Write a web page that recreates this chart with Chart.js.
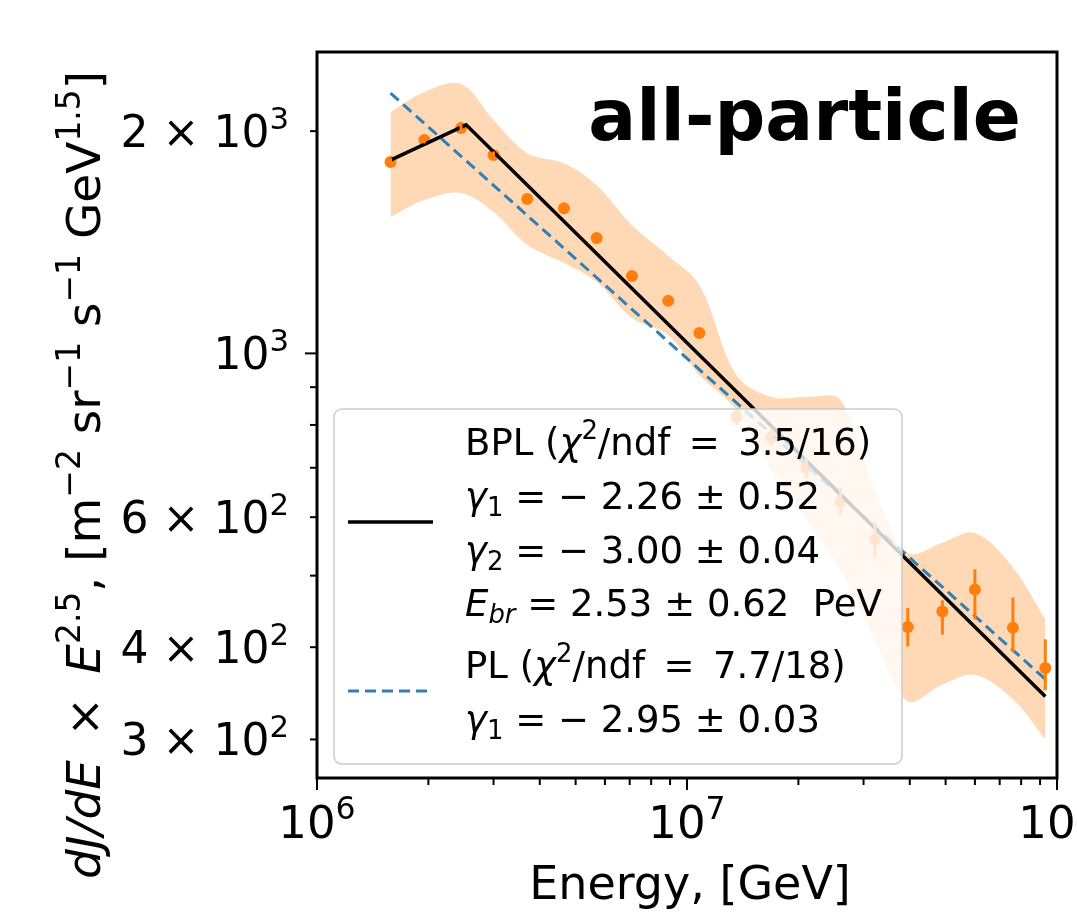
<!DOCTYPE html>
<html>
<head>
<meta charset="utf-8">
<script src="https://cdn.jsdelivr.net/npm/chart.js@4.4.0/dist/chart.umd.min.js"></script>
<style>
  html, body { margin: 0; padding: 0; background: #fff; }
  #wrap { width: 1077px; height: 924px; }
</style>
</head>
<body>
<div id="wrap"><canvas id="chart" width="1077" height="924"></canvas></div>
<script>
// energies of the measured bins, GeV
const energy = [1.58e6, 1.95e6, 2.45e6, 3.0e6, 3.7e6, 4.65e6, 5.7e6, 7.1e6, 8.9e6, 1.08e7,
                1.36e7, 1.69e7, 2.1e7, 2.6e7, 3.22e7, 3.95e7, 4.9e7, 6.0e7, 7.6e7, 9.3e7];
// dJ/dE * E^2.5
const flux   = [1816, 1945, 2019, 1856, 1618, 1573, 1433, 1273, 1178, 1066,
                820, 770, 700, 630, 560, 426, 447, 479, 425, 375];
const fluxLo = [1795, 1925, 1998, 1836, 1600, 1555, 1416, 1258, 1163, 1052,
                800, 750, 678, 605, 530, 401, 416, 436, 394, 350];
const fluxHi = [1838, 1966, 2040, 1877, 1637, 1592, 1450, 1289, 1193, 1081,
                840, 792, 723, 657, 591, 452, 463, 510, 467, 410];
// systematic band
const bandHi = [2122, 2259, 2316, 2070, 1867, 1810, 1690, 1492, 1355, 1238,
                935, 873, 873, 865, 653, 537, 554, 571, 513, 436];
const bandLo = [1530, 1613, 1649, 1554, 1402, 1326, 1250, 1117, 1059, 935,
                839, 696, 595, 509, 409, 338, 356, 367, 340, 300];
// fits
const bplE = [1.58e6, 2.53e6, 9.3e7];
const bplF = [1827, 2040, 343];
const plE  = [1.58e6, 9.3e7];
const plF  = [2252, 362];

// axes
const xRange = [1e6, 1e8];
const yRange = [266, 2560];
const xMajor = [1e6, 1e7, 1e8];
const xMajorExp = ['6', '7', '8'];
const xMinor = [2e6, 3e6, 4e6, 5e6, 6e6, 7e6, 8e6, 9e6, 2e7, 3e7, 4e7, 5e7, 6e7, 7e7, 8e7, 9e7];
const yMajor = [1000];
const yMinor = [300, 400, 500, 600, 700, 800, 900, 2000];
const yLabelVals = [2000, 1000, 600, 400, 300];
const yLabelMant = ['2', '', '6', '4', '3'];
const yLabelExp  = ['3', '3', '2', '2', '2'];

const FONT = '"DejaVu Sans", sans-serif';
const orange = '#ff7f0e';
const blue = '#2f7fb8';

const pts = (xs, ys) => xs.map((x, i) => ({ x: x, y: ys[i] }));

function fontFor(seg, size) {
  const s = (seg.sup || seg.sub) ? size * 0.7 : size;
  return (seg.it ? 'italic ' : '') + (seg.bold ? 'bold ' : '') + s + 'px ' + FONT;
}

function richWidth(ctx, segs, size) {
  let w = 0;
  segs.forEach(seg => { ctx.font = fontFor(seg, size); w += ctx.measureText(seg.t).width; });
  return w;
}

function drawRich(ctx, segs, x, y, size, align) {
  const w = richWidth(ctx, segs, size);
  let cx = align === 'center' ? x - w / 2 : align === 'right' ? x - w : x;
  ctx.textAlign = 'left';
  ctx.textBaseline = 'alphabetic';
  segs.forEach(seg => {
    ctx.font = fontFor(seg, size);
    let dy = 0;
    if (seg.sup) dy = -size * 0.42;
    if (seg.sub) dy = size * 0.2;
    ctx.fillText(seg.t, cx, y + dy);
    cx += ctx.measureText(seg.t).width;
  });
}

const legendRows = [
  [{ t: 'BPL (' }, { t: 'χ', it: true }, { t: '2', sup: true }, { t: '/ndf\u2002=\u20023.5/16)' }],
  [{ t: 'γ', it: true }, { t: '1', sub: true }, { t: ' = − 2.26 ± 0.52' }],
  [{ t: 'γ', it: true }, { t: '2', sub: true }, { t: ' = − 3.00 ± 0.04' }],
  [{ t: 'E', it: true }, { t: 'br', sub: true, it: true }, { t: ' = 2.53 ± 0.62  PeV' }],
  [{ t: 'PL (' }, { t: 'χ', it: true }, { t: '2', sup: true }, { t: '/ndf\u2002=\u20027.7/18)' }],
  [{ t: 'γ', it: true }, { t: '1', sub: true }, { t: ' = − 2.95 ± 0.03' }]
];
const legendRowY = [455, 509, 563, 616, 678, 732];

const yTitle = [
  { t: 'dJ/dE', it: true }, { t: '\u2002×\u2002' }, { t: 'E', it: true }, { t: '2.5', sup: true },
  { t: ', [m' }, { t: '−2', sup: true }, { t: ' sr' }, { t: '−1', sup: true },
  { t: ' s' }, { t: '−1', sup: true }, { t: ' GeV' }, { t: '1.5', sup: true }, { t: ']' }
];

const errorBars = {
  id: 'errorBars',
  afterDatasetsDraw(chart) {
    const ctx = chart.ctx, xs = chart.scales.x, ys = chart.scales.y, a = chart.chartArea;
    ctx.save();
    ctx.beginPath();
    ctx.rect(a.left, a.top, a.right - a.left, a.bottom - a.top);
    ctx.clip();
    ctx.strokeStyle = orange;
    ctx.lineWidth = 3;
    energy.forEach((e, i) => {
      const px = xs.getPixelForValue(e);
      ctx.beginPath();
      ctx.moveTo(px, ys.getPixelForValue(fluxLo[i]));
      ctx.lineTo(px, ys.getPixelForValue(fluxHi[i]));
      ctx.stroke();
    });
    ctx.restore();
  }
};

const decorations = {
  id: 'decorations',
  afterDraw(chart) {
    const ctx = chart.ctx, a = chart.chartArea, xs = chart.scales.x, ys = chart.scales.y;
    ctx.save();

    // legend box
    ctx.fillStyle = 'rgba(255,255,255,0.8)';
    ctx.strokeStyle = '#cccccc';
    ctx.lineWidth = 1.5;
    ctx.beginPath();
    ctx.roundRect(334, 409, 568, 355, 8);
    ctx.fill();
    ctx.stroke();

    ctx.strokeStyle = '#000';
    ctx.lineWidth = 3.5;
    ctx.beginPath(); ctx.moveTo(348, 522); ctx.lineTo(433, 522); ctx.stroke();
    ctx.strokeStyle = blue;
    ctx.lineWidth = 3;
    ctx.setLineDash([11, 6]);
    ctx.beginPath(); ctx.moveTo(348, 691); ctx.lineTo(433, 691); ctx.stroke();
    ctx.setLineDash([]);

    ctx.fillStyle = '#000';
    legendRows.forEach((row, i) => drawRich(ctx, row, 465, legendRowY[i], 37, 'left'));

    // panel label
    ctx.font = 'bold 71px ' + FONT;
    ctx.textAlign = 'right';
    ctx.textBaseline = 'alphabetic';
    ctx.fillText('all-particle', 1021, 140);

    // frame
    ctx.strokeStyle = '#000';
    ctx.lineWidth = 3;
    ctx.strokeRect(a.left, a.top, a.right - a.left, a.bottom - a.top);

    // ticks
    ctx.lineWidth = 2;
    const tick = (x1, y1, x2, y2) => { ctx.beginPath(); ctx.moveTo(x1, y1); ctx.lineTo(x2, y2); ctx.stroke(); };
    xMajor.forEach(v => { const p = xs.getPixelForValue(v); tick(p, a.bottom, p, a.bottom + 12); });
    xMinor.forEach(v => { const p = xs.getPixelForValue(v); tick(p, a.bottom, p, a.bottom + 7); });
    yMajor.forEach(v => { const p = ys.getPixelForValue(v); tick(a.left, p, a.left - 12, p); });
    yMinor.forEach(v => { const p = ys.getPixelForValue(v); tick(a.left, p, a.left - 7, p); });

    // tick labels
    ctx.fillStyle = '#000';
    xMajor.forEach((v, i) => {
      drawRich(ctx, [{ t: '10' }, { t: xMajorExp[i], sup: true }], xs.getPixelForValue(v), 838, 45, 'center');
    });
    yLabelVals.forEach((v, i) => {
      const segs = [];
      if (yLabelMant[i]) segs.push({ t: yLabelMant[i] + ' × ' });
      segs.push({ t: '10' }, { t: yLabelExp[i], sup: true });
      drawRich(ctx, segs, 289, ys.getPixelForValue(v) + 16, 44, 'right');
    });

    // axis titles
    drawRich(ctx, [{ t: 'Energy, [GeV]' }], 690, 899, 46, 'center');
    ctx.translate(100, 475);
    ctx.rotate(-Math.PI / 2);
    drawRich(ctx, yTitle, 0, 0, 47, 'center');
    ctx.restore();
  }
};

new Chart(document.getElementById('chart'), {
  type: 'scatter',
  data: {
    datasets: [
      { label: 'band', data: pts(energy, bandHi), showLine: true, fill: '+1', tension: 0.35,
        borderWidth: 0, pointRadius: 0, backgroundColor: 'rgba(255,127,14,0.3)', order: 5 },
      { label: 'bandLo', data: pts(energy, bandLo), showLine: true, fill: false, tension: 0.35,
        borderWidth: 0, pointRadius: 0, order: 6 },
      { label: 'data', data: pts(energy, flux), showLine: false, pointRadius: 6,
        backgroundColor: orange, borderWidth: 0, order: 3 },
      { label: 'PL', data: pts(plE, plF), showLine: true, borderColor: blue, borderWidth: 3,
        borderDash: [11, 6], pointRadius: 0, order: 2 },
      { label: 'BPL', data: pts(bplE, bplF), showLine: true, borderColor: '#000', borderWidth: 3.5,
        pointRadius: 0, order: 1 }
    ]
  },
  options: {
    responsive: false,
    animation: false,
    devicePixelRatio: 1,
    layout: { padding: { left: 317, right: 20, top: 52, bottom: 146 } },
    scales: {
      x: { type: 'logarithmic', min: xRange[0], max: xRange[1], display: false },
      y: { type: 'logarithmic', min: yRange[0], max: yRange[1], display: false }
    },
    plugins: { legend: { display: false }, tooltip: { enabled: false } }
  },
  plugins: [errorBars, decorations]
});
</script>
</body>
</html>
